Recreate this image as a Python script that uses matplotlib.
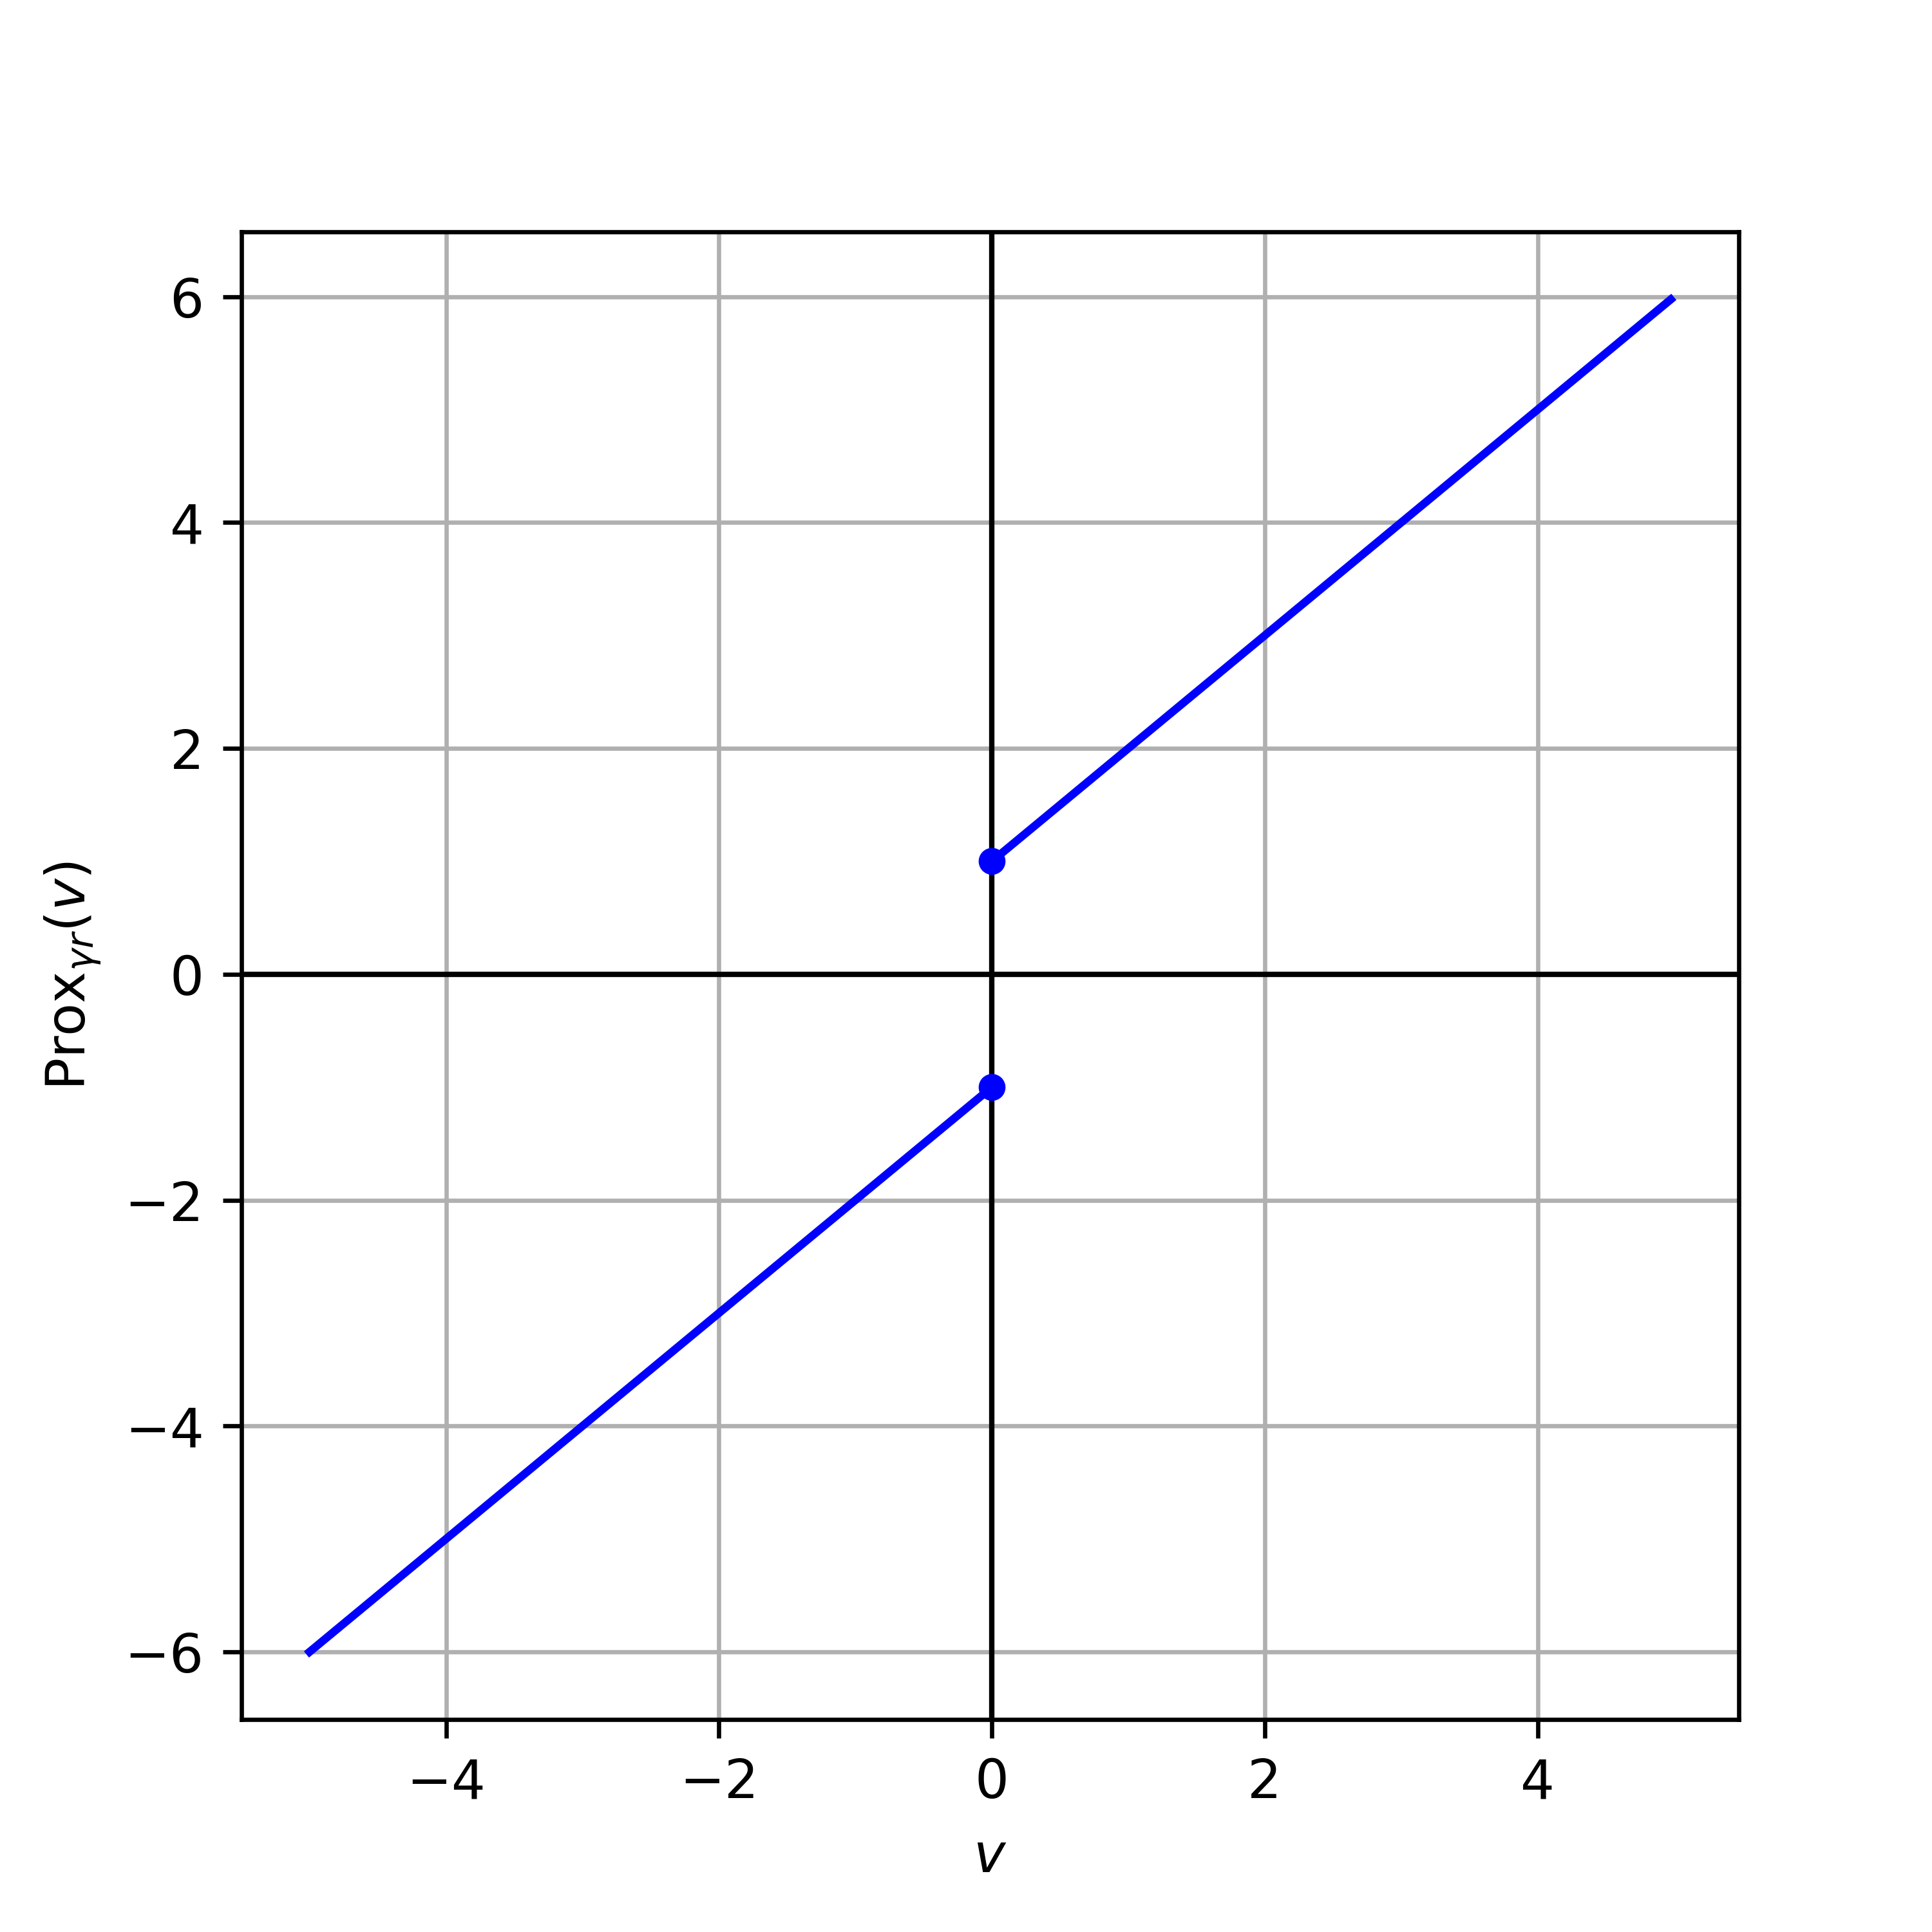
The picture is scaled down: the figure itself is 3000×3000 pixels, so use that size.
import matplotlib
matplotlib.use("Agg")
import matplotlib.pyplot as plt

# proximal map of gamma*r, two branches with a jump at v = 0
v_neg = [-5, 0]
prox_neg = [-6, -1]
v_pos = [0, 4.975]
prox_pos = [1, 5.975]
jump_v = [0, 0]
jump_prox = [1, -1]


def main() -> None:
    fig, ax = plt.subplots(figsize=(5, 5), dpi=600)

    ax.plot(v_neg, prox_neg, color="blue", lw=1.5)
    ax.plot(v_pos, prox_pos, color="blue", lw=1.5)
    ax.plot(jump_v, jump_prox, "o", color="blue", markersize=4, zorder=4)

    ax.axhline(0, color="black", lw=1)
    ax.axvline(0, color="black", lw=1)
    ax.grid(True)

    ax.set_xlabel(r"$v$")
    ax.set_ylabel(r"Prox$_{\gamma r}(v)$")

    fig.savefig("out.png", dpi=600)
    plt.close(fig)


if __name__ == "__main__":
    main()
